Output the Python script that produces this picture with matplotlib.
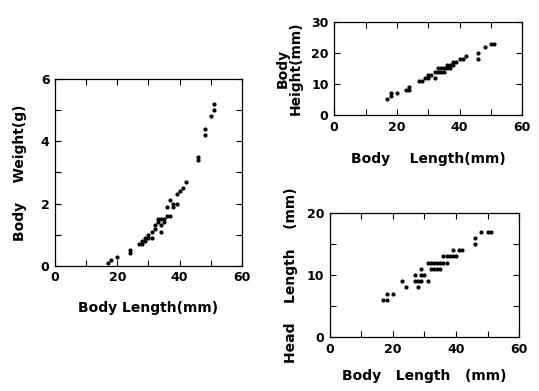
import matplotlib
matplotlib.use("Agg")
import matplotlib.pyplot as plt
from matplotlib.ticker import MultipleLocator

# Body weight vs body length
wt_len = [17, 18, 20, 24, 24, 27, 28, 28, 29, 29, 30, 30, 31, 31, 32, 32, 33, 33, 34, 34,
          34, 35, 35, 36, 36, 37, 37, 38, 38, 39, 39, 40, 41, 42, 46, 46, 48, 48, 50, 51, 51]
wt_g = [0.1, 0.2, 0.3, 0.4, 0.5, 0.7, 0.7, 0.8, 0.9, 0.8, 1.0, 0.9, 0.9, 1.1, 1.2, 1.3, 1.4, 1.5, 1.3, 1.1,
        1.5, 1.4, 1.5, 1.6, 1.9, 1.6, 2.1, 1.9, 2.0, 2.0, 2.3, 2.4, 2.5, 2.7, 3.4, 3.5, 4.2, 4.4, 4.8, 5.0, 5.2]

# Body height vs body length
ht_len = [17, 18, 18, 20, 23, 24, 24, 27, 28, 29, 30, 30, 31, 32, 32, 33, 33, 34, 34, 35,
          35, 36, 36, 37, 37, 38, 38, 39, 40, 41, 42, 46, 46, 48, 50, 51]
ht_mm = [5, 6, 7, 7, 8, 8, 9, 11, 11, 12, 13, 12, 13, 14, 12, 14, 15, 15, 14, 15,
         14, 15, 16, 15, 16, 17, 16, 17, 18, 18, 19, 20, 18, 22, 23, 23]

# Head length vs body length
hd_len = [17, 18, 18, 20, 23, 24, 27, 27, 28, 29, 28, 29, 29, 30, 31, 31, 32, 33, 34, 35,
          36, 37, 32, 33, 34, 35, 36, 37, 38, 39, 39, 40, 41, 42, 46, 46, 48, 50, 51]
hd_mm = [6, 6, 7, 7, 9, 8, 10, 9, 9, 9, 8, 10, 11, 10, 9, 12, 12, 12, 12, 12,
         12, 12, 11, 11, 11, 11, 13, 13, 13, 14, 13, 13, 14, 14, 16, 15, 17, 17, 17]

plt.rcParams["font.family"] = "DejaVu Sans"
plt.rcParams["font.weight"] = "bold"

fig = plt.figure(figsize=(5.39, 3.91), dpi=100)

def style(ax, xmax, ymax, ymajor, yminor):
    ax.set_xlim(0, xmax)
    ax.set_ylim(0, ymax)
    ax.xaxis.set_major_locator(MultipleLocator(20))
    ax.xaxis.set_minor_locator(MultipleLocator(10))
    ax.yaxis.set_major_locator(MultipleLocator(ymajor))
    ax.yaxis.set_minor_locator(MultipleLocator(yminor))
    ax.tick_params(which="both", direction="in", top=True, right=True,
                   labelsize=9, width=0.8, pad=4, length=4)
    for lab in ax.get_xticklabels() + ax.get_yticklabels():
        lab.set_fontweight("bold")
    for s in ax.spines.values():
        s.set_linewidth(0.9)

ax1 = fig.add_axes([0.102, 0.320, 0.347, 0.478])
ax1.scatter(wt_len, wt_g, s=9, color="black", linewidths=0)
style(ax1, 60, 6, 2, 1)
ax1.set_xlabel("Body Length(mm)", fontsize=10, fontweight="bold", labelpad=12)
ax1.set_ylabel("Body    Weight(g)", fontsize=10, fontweight="bold", labelpad=10)

ax2 = fig.add_axes([0.620, 0.706, 0.349, 0.238])
ax2.scatter(ht_len, ht_mm, s=9, color="black", linewidths=0)
style(ax2, 60, 30, 10, 10)
ax2.set_xlabel("Body    Length(mm)", fontsize=10, fontweight="bold", labelpad=13)
ax2.set_ylabel("Body\nHeight(mm)", fontsize=10, fontweight="bold", labelpad=6,
               linespacing=0.9)

ax3 = fig.add_axes([0.612, 0.138, 0.351, 0.317])
ax3.scatter(hd_len, hd_mm, s=9, color="black", linewidths=0)
style(ax3, 60, 20, 10, 5)
ax3.set_xlabel("Body   Length   (mm)", fontsize=10, fontweight="bold", labelpad=10)
ax3.set_ylabel("Head    Length    (mm)", fontsize=10, fontweight="bold", labelpad=6)

fig.savefig("out.png", dpi=100)
